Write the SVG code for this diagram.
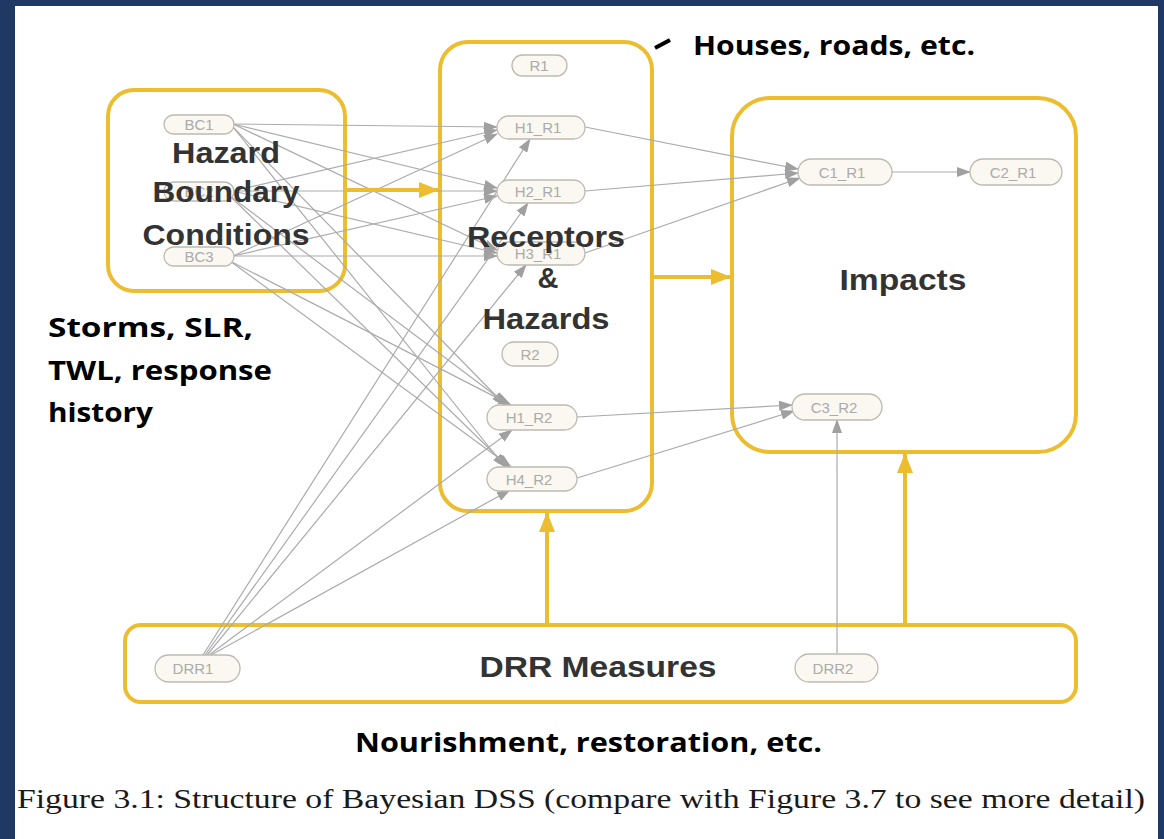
<svg xmlns="http://www.w3.org/2000/svg" width="1164" height="839" viewBox="0 0 1164 839">
<style>
.box{fill:none;stroke:#EBBD2F;stroke-width:4}
.pill{fill:#FAF8F0;stroke:#BDBAB0;stroke-width:1.3}
.pt{font-family:"Liberation Sans",Arial,sans-serif;font-size:15px;fill:#ABABAB;text-anchor:middle}
.big{font-family:"Liberation Sans",Arial,sans-serif;font-weight:bold;font-size:29px;fill:#333;text-anchor:middle}
.note{font-family:"Open Sans","Liberation Sans",sans-serif;font-weight:bold;font-size:27px;fill:#000}
.e{stroke:#ABABAB;stroke-width:1.2;fill:none;marker-end:url(#ga)}
.y{stroke:#EBBD2F;stroke-width:4;fill:none;marker-end:url(#ya)}
</style>
<defs>
<marker id="ga" markerUnits="userSpaceOnUse" markerWidth="14" markerHeight="10" refX="13" refY="5" orient="auto"><path d="M0,0 L14,5 L0,10 z" fill="#A0A0A0"/></marker>
<marker id="ya" markerUnits="userSpaceOnUse" markerWidth="20" markerHeight="16" refX="19" refY="8" orient="auto"><path d="M0,0 L20,8 L0,16 z" fill="#EBBD2F"/></marker>
</defs>
<rect width="1164" height="839" fill="#1F3864"/>
<rect x="15" y="6" width="1143" height="833" fill="#FFFFFF"/>

<g id="containers">
<rect id="hazard-box" class="box" x="108" y="90" width="237" height="201" rx="26"/>
<rect id="receptors-box" class="box" x="440" y="42" width="212" height="469" rx="28"/>
<rect id="impacts-box" class="box" x="732" y="98" width="344" height="354" rx="38"/>
<rect id="drr-box" class="box" x="125" y="625" width="951" height="77" rx="16"/>
</g>

<g id="connectors">
<line class="e" x1="233" y1="124" x2="497" y2="127"/>
<line class="e" x1="233" y1="124" x2="497" y2="188"/>
<line class="e" x1="233" y1="124" x2="497" y2="250"/>
<line class="e" x1="233" y1="127" x2="505" y2="405"/>
<line class="e" x1="233" y1="127" x2="505" y2="467"/>
<line class="e" x1="233" y1="191" x2="497" y2="130"/>
<line class="e" x1="233" y1="191" x2="497" y2="191"/>
<line class="e" x1="233" y1="191" x2="497" y2="253"/>
<line class="e" x1="230" y1="196" x2="508" y2="405"/>
<line class="e" x1="230" y1="196" x2="508" y2="467"/>
<line class="e" x1="233" y1="256" x2="497" y2="134"/>
<line class="e" x1="233" y1="256" x2="497" y2="196"/>
<line class="e" x1="233" y1="256" x2="497" y2="256"/>
<line class="e" x1="230" y1="261" x2="511" y2="405"/>
<line class="e" x1="230" y1="261" x2="511" y2="467"/>
<line class="e" x1="203" y1="655" x2="530" y2="139"/>
<line class="e" x1="205" y1="655" x2="528" y2="203"/>
<line class="e" x1="207" y1="655" x2="526" y2="265"/>
<line class="e" x1="209" y1="655" x2="512" y2="430"/>
<line class="e" x1="211" y1="655" x2="510" y2="490"/>
<line class="e" x1="585" y1="127" x2="798" y2="169"/>
<line class="e" x1="585" y1="191" x2="798" y2="173"/>
<line class="e" x1="585" y1="253" x2="800" y2="178"/>
<line class="e" x1="892" y1="172" x2="970" y2="172"/>
<line class="e" x1="577" y1="417" x2="792" y2="405"/>
<line class="e" x1="577" y1="478" x2="794" y2="411"/>
<line class="e" x1="837" y1="653" x2="837" y2="420"/>
<line class="y" x1="345" y1="190" x2="438" y2="190"/>
<line class="y" x1="652" y1="277" x2="730" y2="277"/>
<line class="y" x1="547" y1="625" x2="547" y2="513"/>
<line class="y" x1="905" y1="625" x2="905" y2="454"/>
</g>

<g id="BC1"><rect class="pill" x="164" y="115" width="70" height="19" rx="9.5"/><text class="pt" x="199" y="130">BC1</text></g>
<g id="BC2"><rect class="pill" x="164" y="182" width="70" height="19" rx="9.5"/><text class="pt" x="199" y="197">BC2</text></g>
<g id="BC3"><rect class="pill" x="164" y="247" width="70" height="19" rx="9.5"/><text class="pt" x="199" y="262">BC3</text></g>
<g id="R1"><rect class="pill" x="512" y="55" width="55" height="21" rx="10.5"/><text class="pt" x="539" y="71">R1</text></g>
<g id="H1_R1"><rect class="pill" x="497" y="116" width="88" height="23" rx="11.5"/><text class="pt" x="538" y="133">H1_R1</text></g>
<g id="H2_R1"><rect class="pill" x="497" y="180" width="88" height="23" rx="11.5"/><text class="pt" x="538" y="197">H2_R1</text></g>
<g id="H3_R1"><rect class="pill" x="497" y="242" width="88" height="23" rx="11.5"/><text class="pt" x="538" y="259">H3_R1</text></g>
<g id="R2"><rect class="pill" x="502" y="342" width="56" height="24" rx="12"/><text class="pt" x="530" y="360">R2</text></g>
<g id="H1_R2"><rect class="pill" x="487" y="405" width="90" height="25" rx="12.5"/><text class="pt" x="529" y="423">H1_R2</text></g>
<g id="H4_R2"><rect class="pill" x="487" y="467" width="90" height="24" rx="12"/><text class="pt" x="529" y="485">H4_R2</text></g>
<g id="C1_R1"><rect class="pill" x="798" y="159" width="94" height="26" rx="13"/><text class="pt" x="842" y="178">C1_R1</text></g>
<g id="C2_R1"><rect class="pill" x="970" y="159" width="92" height="26" rx="13"/><text class="pt" x="1013" y="178">C2_R1</text></g>
<g id="C3_R2"><rect class="pill" x="792" y="394" width="90" height="26" rx="13"/><text class="pt" x="834" y="413">C3_R2</text></g>
<g id="DRR1"><rect class="pill" x="155" y="655" width="85" height="27" rx="13.5"/><text class="pt" x="193" y="674">DRR1</text></g>
<g id="DRR2"><rect class="pill" x="795" y="654" width="83" height="28" rx="14"/><text class="pt" x="833" y="674">DRR2</text></g>

<g id="labels">
<text class="big" x="226" y="163" textLength="108" lengthAdjust="spacingAndGlyphs">Hazard</text>
<text class="big" x="226" y="202" textLength="147" lengthAdjust="spacingAndGlyphs">Boundary</text>
<text class="big" x="226" y="245" textLength="167" lengthAdjust="spacingAndGlyphs">Conditions</text>
<text class="big" x="546" y="247" textLength="158" lengthAdjust="spacingAndGlyphs">Receptors</text>
<text class="big" x="548" y="288">&amp;</text>
<text class="big" x="546" y="329" textLength="127" lengthAdjust="spacingAndGlyphs">Hazards</text>
<text class="big" x="903" y="290" textLength="127" lengthAdjust="spacingAndGlyphs">Impacts</text>
<text class="big" x="598" y="677" textLength="237" lengthAdjust="spacingAndGlyphs">DRR Measures</text>
</g>

<g id="annotations">
<line x1="655" y1="48" x2="670" y2="40" stroke="#000" stroke-width="4"/>
<text class="note" x="693" y="55" textLength="282" lengthAdjust="spacingAndGlyphs">Houses, roads, etc.</text>
<text class="note" x="48" y="337" textLength="205" lengthAdjust="spacingAndGlyphs">Storms, SLR,</text>
<text class="note" x="48" y="380" textLength="224" lengthAdjust="spacingAndGlyphs">TWL, response</text>
<text class="note" x="48" y="422" textLength="105" lengthAdjust="spacingAndGlyphs">history</text>
<text class="note" x="355" y="752" textLength="467" lengthAdjust="spacingAndGlyphs">Nourishment, restoration, etc.</text>
<text x="17" y="808" font-family="'Liberation Serif','DejaVu Serif',serif" font-size="28" fill="#1a1a1a" textLength="1128" lengthAdjust="spacingAndGlyphs">Figure 3.1: Structure of Bayesian DSS (compare with Figure 3.7 to see more detail)</text>
</g>
</svg>
